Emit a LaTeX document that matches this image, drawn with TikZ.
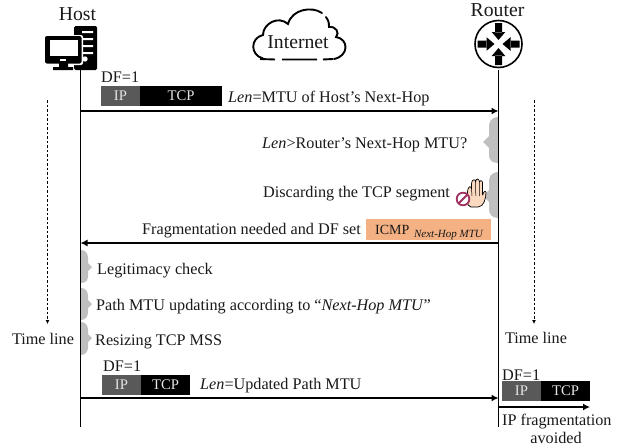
\documentclass[tikz,border=0pt]{standalone}
\usepackage{fontspec}
\setmainfont{Liberation Serif}
\usetikzlibrary{arrows.meta}
\definecolor{peach}{HTML}{F4B183}
\definecolor{handc}{HTML}{FAD9C0}
\definecolor{nosign}{HTML}{A0305F}
\newcommand{\boxtxt}[1]{\raisebox{-1pt}{#1}}
\tikzset{
 lbl/.style={inner sep=0pt,yshift=-1.5pt,font=\fontsize{16.2}{18}\selectfont,text=black!90},
 big/.style={inner sep=0pt,font=\fontsize{19.7}{22}\selectfont,text=black!90},
 wire/.style={line width=1.1pt},
 msg/.style={line width=1.3pt,-{Latex[length=7pt,width=7pt]}},
 tline/.style={line width=0.8pt,dash pattern=on 2.5pt off 2pt,-{Latex[length=4pt,width=4pt]}},
 ipbox/.style={fill=black!65,text=white!90!black,inner sep=0pt,font=\fontsize{14.7}{16}\selectfont},
 tcpbox/.style={fill=black,text=white!90!black,inner sep=0pt,font=\fontsize{14.7}{16}\selectfont},
 brace/.style={fill=black!25,draw=none},
}
\begin{document}
\begin{tikzpicture}[x=1pt,y=-1pt]
\useasboundingbox (0,0) rectangle (629,447);
% Host icon
\fill[rounded corners=1.5pt] (74,26) rectangle (97,70);
\fill[white] (82,31) rectangle (93,33) (82,38) rectangle (93,40) (82,45) rectangle (93,47) (82,52) rectangle (93,54);
\fill[white] (85,59) circle (2.7);
\fill[white,rounded corners=2pt] (44,35) rectangle (83,65);
\fill[rounded corners=2pt] (45,36) rectangle (81.5,63.5);
\fill[white] (49.5,40) rectangle (77.5,56);
\fill[white] (60,59) rectangle (66,60.5);
\fill (59,63) rectangle (68,67) (53,67) rectangle (73,70);
% Router icon
\node[circle,draw,line width=1.6pt,minimum size=47pt,inner sep=0pt] (router) at (498.5,44) {};
\foreach \a in {0,90,180,270}{
 \begin{scope}[shift={(498.5,44)},rotate=\a]
 \fill (-3.5,-21) rectangle (3.5,-11.5) (-6.8,-12) -- (6.8,-12) -- (0,-4) -- cycle;
 \end{scope}}
% Cloud
\draw[line width=1.9pt,line cap=round] (263,58.5) .. controls (250,55) and (250,38) .. (263,35)
 .. controls (263,24) and (278,15) .. (288,24) .. controls (292,9) and (312,6) .. (322,13);
\draw[line width=1.9pt,line cap=round] (326,17) .. controls (328,19) and (329,22) .. (329,27)
 .. controls (336,26) and (340,33) .. (336,37) .. controls (349,39) and (349,56) .. (334,59);
\draw[line width=1.9pt] (260,59) -- (275,59.5) (282,59.5) -- (317,59.5) (323,59.5) -- (333,59);
\node[big] (internet) at (298,42) {Internet};
\node[big] (host) at (77.5,14) {Host};
\node[big] (routerlabel) at (497.5,10.5) {Router};
% Lifelines
\coordinate (hosttop) at (80.5,70);
\coordinate (hostbot) at (80.5,427);
\coordinate (rtop) at (498.5,70);
\coordinate (rbot) at (498.5,427);
% Braces
\fill[brace] (498,117) .. controls (490,118) and (489,122) .. (489,128) -- (489,136) -- (483,142) -- (489,148) -- (489,155) .. controls (489,160) and (492,163) .. (498,163) -- cycle;
\fill[brace] (498,172) .. controls (490,173) and (489,177) .. (489,183) -- (489,190) -- (483,196) -- (489,202) -- (489,209) .. controls (489,214) and (492,218) .. (498,218) -- cycle;
\fill[brace] (81,250) .. controls (86,250) and (88,254) .. (88,258) -- (88,263) -- (92,267) -- (88,271) -- (88,276) .. controls (88,280) and (86,283) .. (81,283) -- cycle;
\fill[brace] (81,288) .. controls (86,288) and (88,292) .. (88,296) -- (88,300) -- (92,304) -- (88,308) -- (88,312) .. controls (88,316) and (86,320) .. (81,320) -- cycle;
\fill[brace] (81,322) .. controls (86,322) and (88,326) .. (88,330) -- (88,334) -- (92,338) -- (88,342) -- (88,347) .. controls (88,351) and (86,355) .. (81,355) -- cycle;
\draw[wire] (hosttop) -- (hostbot);
\draw[wire] (rtop) -- (rbot);
% Time lines
\coordinate (tl1a) at (47.5,100); \coordinate (tl1b) at (47.5,324);
\coordinate (tl2a) at (534,100); \coordinate (tl2b) at (534,324);
\draw[tline] (tl1a) -- (tl1b);
\draw[tline] (tl2a) -- (tl2b);
\node[lbl] (tlleft) at (43,337) {Time line};
\node[lbl] (tlright) at (536,336) {Time line};
% Packet 1
\node[lbl,anchor=west] (df1) at (101,76) {DF=1};
\node[ipbox,minimum width=39pt,minimum height=20pt] (ip1) at (120.5,96) {\boxtxt{IP}};
\node[tcpbox,minimum width=82pt,minimum height=20pt] (tcp1) at (181,96) {\boxtxt{TCP}};
\node[lbl,anchor=west] (len1) at (228,97) {\textit{Len}=MTU of Host’s Next-Hop};
\coordinate (a1) at (80.5,111); \coordinate (b1) at (498.5,111);
\draw[msg] (a1) -- (b1);
% Router actions
\node[lbl,anchor=west] (q) at (262,143) {\textit{Len}>Router’s Next-Hop MTU?};
\node[lbl,anchor=west] (disc) at (263,192) {Discarding the TCP segment};
% Hand
\begin{scope}[shift={(445,165)}]
\draw[line width=0.7pt,fill=handc,line join=round] (23,40) .. controls (22,34) and (22,28) .. (23,24) .. controls (24,21) and (26,21) .. (26.5,24)
 .. controls (26,18) and (27,15) .. (28.5,15) .. controls (30,14) and (30.5,15) .. (30.5,17) .. controls (31,13) and (34,13) .. (34.5,17)
 .. controls (36,14) and (38,16) .. (37.5,20) -- (37.5,30) .. controls (39,26) and (41,25) .. (41,27)
 .. controls (41,33) and (39,42) .. (33,42) -- (26,42) -- cycle;
\draw[line width=0.5pt] (26.5,24) -- (27,31) (30.5,17) -- (30.8,31) (34.5,17) -- (34.5,31);
\draw[line width=1.8pt,draw=nosign,fill=white] (18,34) circle (6.3);
\draw[line width=1.8pt,draw=nosign] (13.5,38.5) -- (22.5,29.5);
\end{scope}
% ICMP
\node[fill=peach,minimum width=125pt,minimum height=21pt,inner sep=0pt] (icmp) at (428.5,229.5) {};
\node[inner sep=0pt,anchor=base west,font=\fontsize{14}{16}\selectfont,text=black!90] (icmpt) at (375,234) {ICMP\,\,\raisebox{-3.5pt}{\fontsize{11}{12}\selectfont\textit{Next-Hop MTU}}};
\node[lbl,anchor=east] (frag) at (361,229) {Fragmentation needed and DF set};
\coordinate (a2) at (498.5,243); \coordinate (b2) at (80.5,243);
\draw[msg] (a2) -- (b2);
% Host actions
\node[lbl,anchor=west] (legit) at (97,269) {Legitimacy check};
\node[lbl,anchor=west] (path) at (96,305) {Path MTU updating according to “\textit{Next-Hop MTU}”};
\node[lbl,anchor=west] (resize) at (95,340) {Resizing TCP MSS};
% Packet 2
\node[lbl,anchor=west] (df2) at (103,365) {DF=1};
\node[ipbox,minimum width=39pt,minimum height=20pt] (ip2) at (121.5,385) {\boxtxt{IP}};
\node[tcpbox,minimum width=49pt,minimum height=20pt] (tcp2) at (165.5,385) {\boxtxt{TCP}};
\node[lbl,anchor=west] (len2) at (200,384) {\textit{Len}=Updated Path MTU};
\coordinate (a3) at (80.5,398); \coordinate (b3) at (498.5,398);
\draw[msg] (a3) -- (b3);
% Packet 3
\node[lbl,anchor=west] (df3) at (502,374) {DF=1};
\node[ipbox,minimum width=39pt,minimum height=20pt] (ip3) at (521.5,391) {\boxtxt{IP}};
\node[tcpbox,minimum width=49pt,minimum height=20pt] (tcp3) at (565.5,391) {\boxtxt{TCP}};
\coordinate (a4) at (498.5,407); \coordinate (b4) at (590,407);
\draw[msg] (a4) -- (b4);
\node[lbl,anchor=west] (ipf) at (502,420) {IP fragmentation};
\node[lbl] (avoid) at (556,436) {avoided};
\end{tikzpicture}
\end{document}
